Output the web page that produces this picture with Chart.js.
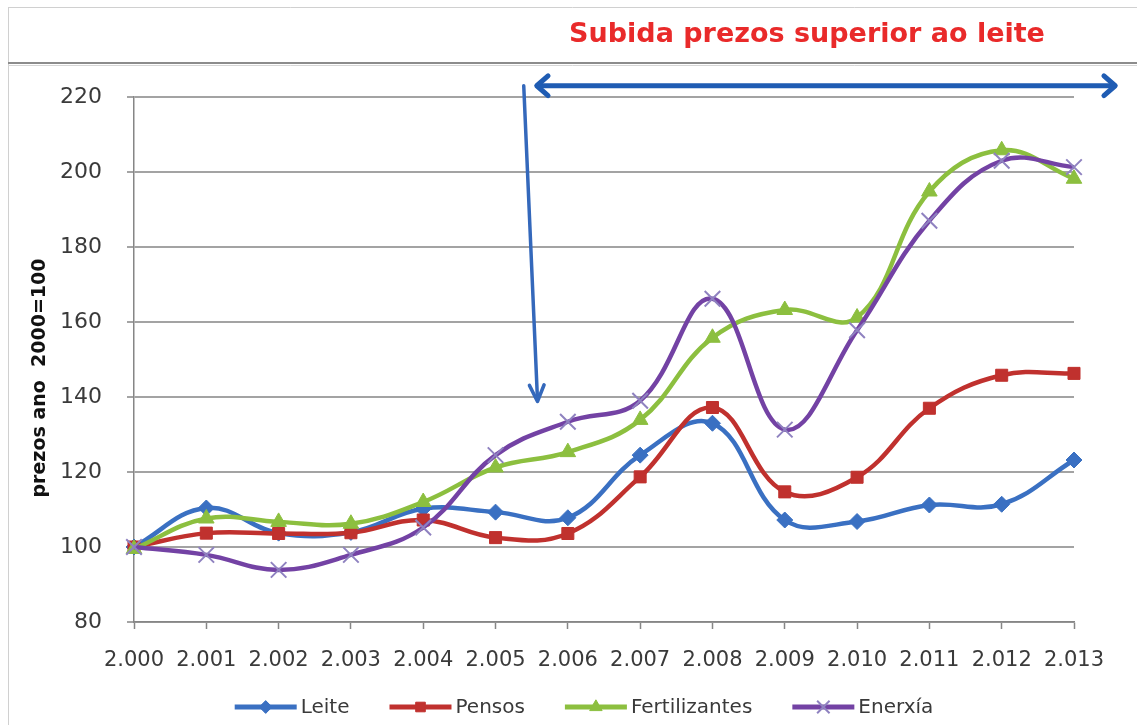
<!DOCTYPE html>
<html><head><meta charset="utf-8">
<script src="https://cdn.jsdelivr.net/npm/chart.js@4.4.1/dist/chart.umd.min.js"></script>
<style>
html,body{margin:0;padding:0;background:#fff;}
#wrap{position:relative;width:1137px;height:725px;}
canvas{display:block;}
</style></head><body>
<div id="wrap"><canvas id="c" width="1137" height="725"></canvas></div>
<script>
// ---- data ----
const years = ['2.000','2.001','2.002','2.003','2.004','2.005','2.006','2.007','2.008','2.009','2.010','2.011','2.012','2.013'];
const leite = [100,110.4,103.7,103.9,110.2,109.3,107.8,124.5,133,107.2,106.8,111.2,111.4,123.2];
const pensos = [100,103.7,103.6,103.8,107.2,102.5,103.6,118.7,137.2,114.7,118.6,137,145.8,146.3];
const fertilizantes = [99.5,107.6,106.7,106.2,112,121.2,125.3,133.9,155.8,163.2,161.2,194.8,205.8,198.2];
const enerxia = [100,97.9,93.9,97.9,105.2,124.5,133.4,139,166.2,131.3,157.8,187,203,201.3];
const seriesNames = ['Leite','Pensos','Fertilizantes','Enerxía'];
const yTicks = [80,100,120,140,160,180,200,220];
const titleText = 'Subida prezos superior ao leite';
const yTitleText = 'prezos ano  2000=100';

// ---- styles ----
const COL = {leite:'#3a70c2', pensos:'#c0312e', fert:'#8cbf3f', ener:'#7342a4', enerMark:'#8f82c0'};
const TEXT = '#3a3a3a';
// annotation arrows in data units (category index, value)
const ARROWS = {
  horiz: {x1:5.57, x2:13.57, y:223.0},
  vert: {x1:5.39, y1:223.0, x2:5.58, y2:138.8}
};

function ds(label, data, color, style, radius, order, markColor, bw){
  return {label, data, borderColor:color, backgroundColor:color, borderWidth:4.5,
    pointStyle:style, pointRadius:radius, pointHoverRadius:radius,
    pointBackgroundColor: markColor||color, pointBorderColor: markColor||color,
    pointBorderWidth: bw||1, tension:0.4, order, fill:false};
}

const framePlugin = {
  id:'frame',
  beforeDraw(chart){
    const c = chart.ctx; c.save();
    c.strokeStyle='#d0d0d0'; c.lineWidth=1;
    c.beginPath(); c.moveTo(8.5,7); c.lineTo(8.5,725); c.stroke();
    c.beginPath(); c.moveTo(8,7.5); c.lineTo(1137,7.5); c.stroke();
    c.strokeStyle='#8c8c8c'; c.lineWidth=2;
    c.beginPath(); c.moveTo(8,63); c.lineTo(1137,63); c.stroke();
    c.strokeStyle='#d6d6d6'; c.lineWidth=1;
    c.beginPath(); c.moveTo(8,65.5); c.lineTo(1137,65.5); c.stroke();
    c.restore();
  }
};

function chevron(c, tx, ty, ang, len, spread){
  c.beginPath();
  c.moveTo(tx - len*Math.cos(ang - spread), ty - len*Math.sin(ang - spread));
  c.lineTo(tx, ty);
  c.lineTo(tx - len*Math.cos(ang + spread), ty - len*Math.sin(ang + spread));
  c.stroke();
}

const annotPlugin = {
  id:'annot',
  afterDraw(chart){
    const c = chart.ctx, xs = chart.scales.x, ys = chart.scales.y;
    c.save();
    // title
    c.fillStyle='#e92a2a';
    c.font='bold 27px "DejaVu Sans"';
    c.textAlign='center'; c.textBaseline='alphabetic';
    c.fillText(titleText, 807, 42);
    // y title
    c.save();
    c.translate(40, 378);
    c.rotate(-Math.PI/2);
    c.fillStyle='#111';
    c.font='bold 19px "DejaVu Sans"';
    c.textAlign='center'; c.textBaseline='middle';
    c.fillText(yTitleText, 0, 0);
    c.restore();
    // horizontal double arrow
    const h = ARROWS.horiz;
    const hx1 = xs.getPixelForValue(h.x1), hx2 = xs.getPixelForValue(h.x2), hy = ys.getPixelForValue(h.y);
    c.strokeStyle='#1f5cb3'; c.lineWidth=5; c.lineCap='round'; c.lineJoin='round';
    c.beginPath(); c.moveTo(hx1+3, hy); c.lineTo(hx2-3, hy); c.stroke();
    chevron(c, hx2, hy, 0, 15, 0.72);
    chevron(c, hx1, hy, Math.PI, 15, 0.72);
    // vertical arrow
    const v = ARROWS.vert;
    const vx1 = xs.getPixelForValue(v.x1), vy1 = ys.getPixelForValue(v.y1);
    const vx2 = xs.getPixelForValue(v.x2), vy2 = ys.getPixelForValue(v.y2);
    c.strokeStyle='#3468bb'; c.lineWidth=3.5;
    c.beginPath(); c.moveTo(vx1, vy1); c.lineTo(vx2, vy2-2); c.stroke();
    const ang = Math.atan2(vy2-vy1, vx2-vx1);
    chevron(c, vx2, vy2, ang, 18, 0.42);
    // legend
    const items = chart.data.datasets;
    c.font='20px "DejaVu Sans"';
    const lineLen = 62, gapText = 4, gapItem = 40;
    const widths = items.map(d => lineLen + gapText + c.measureText(d.label).width);
    const total = widths.reduce((a,b)=>a+b,0) + gapItem*(items.length-1);
    let x = 584 - total/2;
    const ly = 707;
    items.forEach((d,i) => {
      c.strokeStyle = d.borderColor; c.lineWidth = 5; c.lineCap='butt';
      c.beginPath(); c.moveTo(x, ly); c.lineTo(x+lineLen, ly); c.stroke();
      c.fillStyle = d.pointBackgroundColor; c.strokeStyle = d.pointBorderColor;
      c.lineWidth = d.pointBorderWidth;
      Chart.helpers.drawPoint(c, {pointStyle:d.pointStyle, radius:d.pointRadius*0.8, rotation:0, borderWidth:d.pointBorderWidth}, x+lineLen/2, ly);
      c.fillStyle = TEXT; c.textAlign='left'; c.textBaseline='middle';
      c.fillText(d.label, x+lineLen+gapText, ly+1);
      x += widths[i] + gapItem;
    });
    c.restore();
  }
};

new Chart(document.getElementById('c'), {
  type:'line',
  data:{
    labels: years,
    datasets:[
      ds(seriesNames[0], leite, COL.leite, 'rectRot', 8, 4),
      ds(seriesNames[1], pensos, COL.pensos, 'rect', 8.5, 3),
      ds(seriesNames[2], fertilizantes, COL.fert, 'triangle', 9, 2),
      ds(seriesNames[3], enerxia, COL.ener, 'crossRot', 11, 1, COL.enerMark, 2)
    ]
  },
  options:{
    responsive:false, animation:false, devicePixelRatio:1,
    layout:{padding:{top:97, right:63, bottom:0, left:0}},
    plugins:{legend:{display:false}, title:{display:false}, tooltip:{enabled:false}},
    scales:{
      x:{
        type:'category', offset:false,
        ticks:{font:{family:'DejaVu Sans', size:21}, color:TEXT, padding:19, autoSkip:false, maxRotation:0, minRotation:0},
        grid:{drawOnChartArea:false, drawTicks:true, tickLength:7, tickColor:'#868686', tickWidth:1.5},
        border:{color:'#868686', width:1.5},
        afterFit:(s)=>{ s.height = 103; s.paddingLeft = 0; s.paddingRight = 0; }
      },
      y:{
        min:80, max:220,
        afterBuildTicks:(s)=>{ s.ticks = yTicks.map(v=>({value:v})); },
        ticks:{font:{family:'DejaVu Sans', size:22}, color:TEXT, padding:25},
        grid:{color:'#a3a3a3', lineWidth:2, drawTicks:true, tickLength:7, tickColor:'#868686', tickWidth:1.5},
        border:{color:'#868686', width:1.5},
        afterFit:(s)=>{ s.width = 134; s.paddingTop = 0; s.paddingBottom = 0; }
      }
    }
  },
  plugins:[framePlugin, annotPlugin]
});
</script>
</body></html>
